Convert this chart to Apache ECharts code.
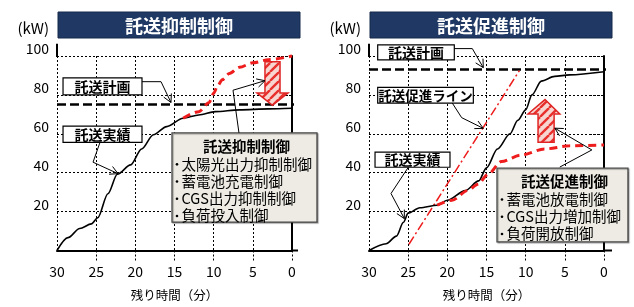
<!DOCTYPE html>
<html><head><meta charset="utf-8">
<script src="https://cdn.jsdelivr.net/npm/echarts@6/dist/echarts.min.js"></script>
<style>html,body{margin:0;padding:0;background:#fff}#c{width:634px;height:307px}</style>
</head><body><div id="c"></div>
<script>
// ---------- data ----------
const xTickValues = [30, 25, 20, 15, 10, 5, 0];
const yTickValues = [20, 40, 60, 80, 100];
const xAxisName = '残り時間（分）';
const yAxisName = '(kW)';
const leftTitle = '託送抑制制御';
const rightTitle = '託送促進制御';

// left: suppression control
const leftActualT = [30, 28.6, 27.1, 25.6, 24.8, 23.5, 22.3, 20.6, 19.2, 17.7, 16.0, 13.9, 11.9, 9.8, 6.7, 3.0, 0];
const leftActualV = [0, 6.6, 11.3, 13.7, 16.8, 29.2, 39.2, 44.0, 52.2, 59.5, 63.7, 68.0, 69.7, 71.4, 72.3, 72.8, 73.1];
const leftForecastT = [13.9, 11.9, 10.6, 10.0, 9.5, 8.9, 8.0, 6.7, 5.0, 3.0, 0];
const leftForecastV = [68, 71.4, 76, 80.8, 84.7, 87.8, 91, 94.2, 96.5, 98.1, 100];
const leftPlanValue = 75;

// right: promotion control
const rightActualT = [30, 27.8, 26.5, 25.6, 25.0, 23.5, 21.3, 20.0, 17.7, 16.0, 15.0, 13.6, 12.0, 11.0, 10.0, 9.2, 8.0, 6.3, 4.4, 0];
const rightActualV = [0, 3.5, 7.4, 14.5, 19.2, 22.0, 23.3, 25.8, 30.8, 35.8, 42.5, 52.2, 60, 67, 72.3, 80, 87.1, 89.5, 90.3, 91.9];
const rightForecastT = [21.3, 19.4, 17.4, 16.1, 14.8, 13.1, 10.6, 7.6, 4.4, 0];
const rightForecastV = [23.3, 25.8, 30.8, 34.1, 39.2, 45.7, 49, 52.2, 53.8, 54.3];
const rightPromoLineT = [24.9, 10.8];
const rightPromoLineV = [3.2, 92.5];
const rightPlanValue = 93;

// labels
const labelPlan = '託送計画';
const labelActual = '託送実績';
const labelPromoLine = '託送促進ライン';
const leftPanelItems = ['太陽光出力抑制制御', '蓄電池充電制御', 'CGS出力抑制制御', '負荷投入制御'];
const rightPanelItems = ['蓄電池放電制御', 'CGS出力増加制御', '負荷開放制御'];

// ---------- chart ----------
const FONT = '"Noto Sans CJK JP", "Noto Sans", sans-serif';
const chart = echarts.init(document.getElementById('c'));
const pairs = (ts, vs) => ts.map((t, i) => [t, vs[i]]);
const dotted = [2, 2];

function xAxisCfg(gi) {
  return {
    type: 'value', gridIndex: gi, inverse: true, min: 0, max: 30, interval: 5,
    axisLine: { show: true, onZero: false, lineStyle: { color: '#000', width: 2 } },
    axisTick: { show: true, length: 12, lineStyle: { color: '#000', type: dotted, width: 1 } },
    axisLabel: { show: true, margin: 14, fontSize: 14, color: '#000', fontFamily: FONT },
    splitLine: { show: true, lineStyle: { color: '#000', type: dotted, width: 1 } },
    name: xAxisName, nameLocation: 'middle', nameGap: 39,
    nameTextStyle: { fontSize: 12.5, color: '#000', fontFamily: FONT }
  };
}
function yAxisCfg(gi) {
  return {
    type: 'value', gridIndex: gi, min: 0, max: 100, interval: 20,
    axisLine: { show: true, lineStyle: { color: '#000', width: 2 } },
    axisTick: { show: true, length: 14, lineStyle: { color: '#000', type: dotted, width: 1 } },
    axisLabel: { show: true, margin: 8, fontSize: 14, color: '#000', fontFamily: FONT, verticalAlign: 'bottom',
      formatter: v => (yTickValues.indexOf(v) >= 0 ? String(v) : '') },
    splitLine: { show: true, lineStyle: { color: '#000', type: dotted, width: 1 } }
  };
}
function lineSeries(gi, data, style, extra) {
  return Object.assign({
    type: 'line', xAxisIndex: gi, yAxisIndex: gi, data: data,
    showSymbol: false, symbol: 'none', lineStyle: style, silent: true, clip: false
  }, extra || {});
}
const smoothOpt = { smooth: 0.3, smoothMonotone: 'x' };

chart.setOption({
  animation: false,
  backgroundColor: '#fff',
  grid: [
    { left: 57, top: 56, width: 235, height: 205 },
    { left: 369, top: 56, width: 235, height: 205 }
  ],
  xAxis: [xAxisCfg(0), xAxisCfg(1)],
  yAxis: [yAxisCfg(0), yAxisCfg(1)],
  series: [
    lineSeries(0, [[30, leftPlanValue], [-0.89, leftPlanValue]], { color: '#000', width: 2.5, type: [9, 4] }),
    lineSeries(0, pairs(leftActualT, leftActualV), { color: '#000', width: 1.6 }, smoothOpt),
    lineSeries(0, pairs(leftForecastT, leftForecastV), { color: '#ee1c1c', width: 3, type: [8, 5] }, smoothOpt),
    lineSeries(1, [[30, rightPlanValue], [-1.02, rightPlanValue]], { color: '#000', width: 2.5, type: [9, 4] }),
    lineSeries(1, pairs(rightPromoLineT, rightPromoLineV), { color: '#ee1c1c', width: 1.5, type: [9, 3, 2, 3] }),
    lineSeries(1, pairs(rightActualT, rightActualV), { color: '#000', width: 1.6 }, smoothOpt),
    lineSeries(1, pairs(rightForecastT, rightForecastV), { color: '#ee1c1c', width: 3, type: [8, 5] }, smoothOpt)
  ]
});

// ---------- annotations (positions in data units) ----------
const annotations = [
  {
    grid: 0, title: leftTitle, yAxisTop: 106.3, xAxisEnd: -0.77,
    boxes: [
      { t0: 29.23, v0: 88.8, t1: 19.15, v1: 80.0, text: labelPlan, size: 14 },
      { t0: 29.23, v0: 63.9, t1: 19.15, v1: 55.6, text: labelActual, size: 14 }
    ],
    leaders: [
      [[19.15, 86.8], [16.72, 86.8], [15.45, 76.1]],
      [[24.51, 55.6], [25.40, 45.4], [22.21, 39.5]],
      [[6.77, 60.5], [7.53, 82.4], [3.45, 87.3]]
    ],
    arrow: { dir: 'down', shaft: [3.45, 1.53], head: [4.47, 0.51], tip: 2.49, vBack: 97.1, vHead: 81.0, vTip: 74.6 },
    panel: { t0: 15.32, v0: 60.5, t1: -3.19, v1: 14.6, title: leftTitle, items: leftPanelItems }
  },
  {
    grid: 1, title: rightTitle, yAxisTop: 106.3, xAxisEnd: -1.02,
    boxes: [
      { t0: 28.89, v0: 105.7, t1: 19.11, v1: 98.0, text: labelPlan, size: 14 },
      { t0: 28.89, v0: 83.9, t1: 16.68, v1: 75.8, text: labelPromoLine, size: 13.5 },
      { t0: 29.23, v0: 50.6, t1: 19.66, v1: 42.8, text: labelActual, size: 14 }
    ],
    leaders: [
      [[19.11, 103.8], [16.81, 103.8], [15.41, 94.0]],
      [[19.37, 75.8], [18.17, 68.3], [15.41, 62.8]],
      [[24.98, 42.8], [27.19, 29.3], [25.49, 16.4]],
      [[5.64, 42.9], [1.55, 51.7], [6.28, 62.9]]
    ],
    arrow: { dir: 'up', shaft: [8.42, 6.37], head: [9.70, 5.64], tip: 7.53, vBack: 55.6, vHead: 70.2, vTip: 77.6 },
    panel: { t0: 13.66, v0: 42.4, t1: -3.06, v1: 4.4, title: rightTitle, items: rightPanelItems }
  }
];

function makePattern() {
  const c = document.createElement('canvas');
  const s = 9;
  c.width = s; c.height = s;
  const g = c.getContext('2d');
  g.fillStyle = '#f7d6d2';
  g.fillRect(0, 0, s, s);
  g.strokeStyle = '#e8302c';
  g.lineWidth = 2.4;
  for (const k of [-s, 0, s]) {
    g.beginPath(); g.moveTo(k, s); g.lineTo(k + s, 0); g.stroke();
  }
  return c;
}
const pattern = makePattern();

function buildGraphics() {
  const els = [];
  for (const a of annotations) {
    const P = (t, v) => chart.convertToPixel({ gridIndex: a.grid }, [t, v]);
    const origin = P(30, 0);
    const top100 = P(30, 100);
    // axis extensions
    const yTop = P(30, a.yAxisTop);
    els.push({ type: 'line', z: 50, shape: { x1: top100[0], y1: top100[1] + 1, x2: yTop[0], y2: yTop[1] }, style: { stroke: '#000', lineWidth: 2 } });
    const x0 = P(0, 0), xEnd = P(a.xAxisEnd, 0);
    els.push({ type: 'line', z: 50, shape: { x1: x0[0] - 1, y1: x0[1], x2: xEnd[0], y2: xEnd[1] }, style: { stroke: '#000', lineWidth: 2 } });
    // hide stray ticks at the origin (30 on x, 0 on y)
    els.push({ type: 'rect', z: 49, shape: { x: origin[0] - 16, y: origin[1] + 1.5, width: 15, height: 12 }, style: { fill: '#fff' } });
    els.push({ type: 'rect', z: 49, shape: { x: origin[0] - 1, y: origin[1] + 1.5, width: 3, height: 12 }, style: { fill: '#fff' } });
    els.push({ type: 'rect', z: 49, shape: { x: origin[0] - 16, y: origin[1] - 1, width: 15, height: 3 }, style: { fill: '#fff' } });
    // y axis unit
    els.push({ type: 'text', z: 51, x: origin[0] - 8, y: 28, style: { text: yAxisName, fill: '#000', font: '15px ' + FONT, align: 'right', verticalAlign: 'middle' } });
    // banner
    const bx = origin[0] + 1, bw = 242, by = 12, bh = 26;
    els.push({ type: 'rect', z: 50, shape: { x: bx, y: by, width: bw, height: bh }, style: { fill: '#1f3864', stroke: '#14284a', lineWidth: 1 } });
    els.push({ type: 'text', z: 51, x: bx + bw / 2, y: by + bh / 2 + 1, style: { text: a.title, fill: '#fff', font: 'bold 18px ' + FONT, align: 'center', verticalAlign: 'middle' } });
    // boxes
    for (const b of a.boxes) {
      const p0 = P(b.t0, b.v0), p1 = P(b.t1, b.v1);
      els.push({ type: 'rect', z: 60, shape: { x: p0[0], y: p0[1], width: p1[0] - p0[0], height: p1[1] - p0[1] }, style: { fill: '#fff', stroke: '#000', lineWidth: 1.2 } });
      els.push({ type: 'text', z: 61, x: (p0[0] + p1[0]) / 2, y: (p0[1] + p1[1]) / 2 + 0.5, style: { text: b.text, fill: '#000', font: 'bold ' + b.size + 'px ' + FONT, align: 'center', verticalAlign: 'middle' } });
    }
    // panel
    const q0 = P(a.panel.t0, a.panel.v0), q1 = P(a.panel.t1, a.panel.v1);
    els.push({ type: 'rect', z: 60, shape: { x: q0[0], y: q0[1], width: q1[0] - q0[0], height: q1[1] - q0[1] }, style: { fill: '#edebe3', stroke: '#4a4a4a', lineWidth: 1.3, shadowColor: 'rgba(0,0,0,0.35)', shadowOffsetX: 1, shadowOffsetY: 1, shadowBlur: 1 } });
    els.push({ type: 'text', z: 61, x: (q0[0] + q1[0]) / 2 + 2, y: q0[1] + 13.5, style: { text: a.panel.title, fill: '#000', font: 'bold 14.5px ' + FONT, align: 'center', verticalAlign: 'middle' } });
    a.panel.items.forEach((it, i) => {
      const yy = q0[1] + 31.5 + i * 17.2;
      els.push({ type: 'circle', z: 61, shape: { cx: q0[0] + 5, cy: yy, r: 1.3 }, style: { fill: '#000' } });
      els.push({ type: 'text', z: 61, x: q0[0] + 9.5, y: yy, style: { text: it, fill: '#000', font: '14.5px ' + FONT, align: 'left', verticalAlign: 'middle' } });
    });
    // leaders
    for (const L of a.leaders) {
      const pts = L.map(p => P(p[0], p[1]));
      els.push({ type: 'polyline', z: 62, shape: { points: pts }, style: { stroke: '#000', lineWidth: 1, fill: null } });
      const tip = pts[pts.length - 1], prev = pts[pts.length - 2];
      const dx = tip[0] - prev[0], dy = tip[1] - prev[1];
      const len = Math.hypot(dx, dy), ux = dx / len, uy = dy / len;
      const ang = 28 * Math.PI / 180, hl = 9;
      const w1 = [tip[0] - hl * (ux * Math.cos(ang) - uy * Math.sin(ang)), tip[1] - hl * (uy * Math.cos(ang) + ux * Math.sin(ang))];
      const w2 = [tip[0] - hl * (ux * Math.cos(-ang) - uy * Math.sin(-ang)), tip[1] - hl * (uy * Math.cos(-ang) + ux * Math.sin(-ang))];
      els.push({ type: 'polyline', z: 62, shape: { points: [w1, tip, w2] }, style: { stroke: '#000', lineWidth: 1, fill: null } });
    }
    // block arrow
    const ar = a.arrow;
    const poly = [
      [ar.shaft[0], ar.vBack], [ar.shaft[1], ar.vBack], [ar.shaft[1], ar.vHead], [ar.head[1], ar.vHead],
      [ar.tip, ar.vTip], [ar.head[0], ar.vHead], [ar.shaft[0], ar.vHead]
    ].map(p => P(p[0], p[1]));
    els.push({ type: 'polygon', z: 55, shape: { points: poly }, style: { fill: { image: pattern, repeat: 'repeat' }, stroke: '#e02424', lineWidth: 1.5 } });
  }
  chart.setOption({ graphic: els });
}
buildGraphics();
</script>
</body></html>
